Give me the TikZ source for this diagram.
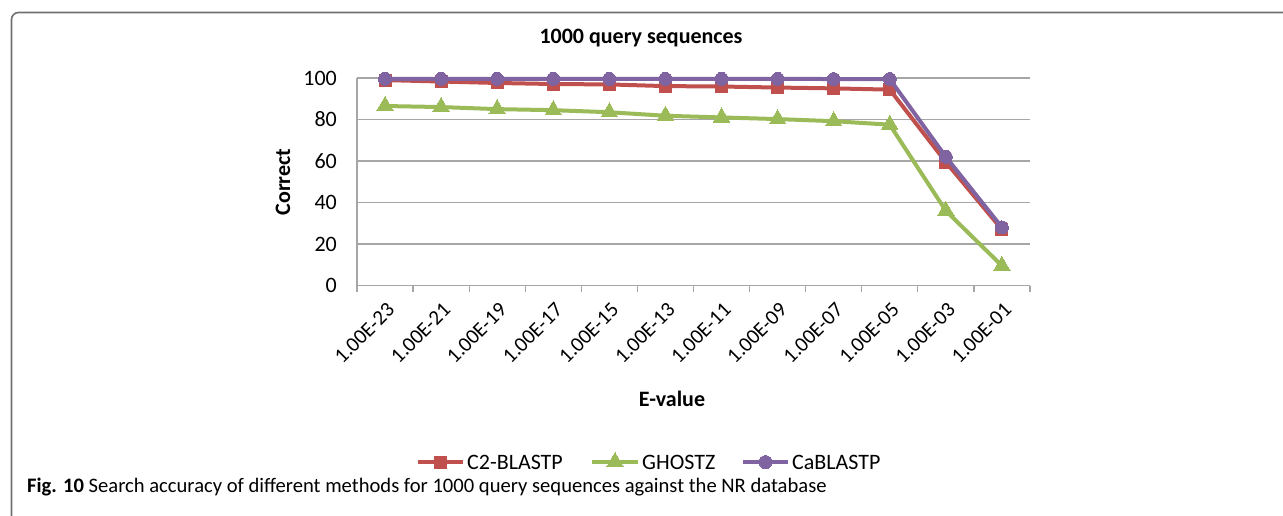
\documentclass[tikz,border=0pt]{standalone}
\usepackage{fontspec}
\setmainfont{Carlito}
\usetikzlibrary{plotmarks}

\definecolor{serred}{HTML}{C0504D}
\definecolor{sergreen}{HTML}{9BBB59}
\definecolor{serpurple}{HTML}{8064A2}
\definecolor{axisgray}{HTML}{A6A6A6}
\definecolor{framegray}{HTML}{707070}

\begin{document}
\begin{tikzpicture}[x=1pt, y=-1pt,
    gridline/.style={draw=axisgray, line width=1.3pt},
    series/.style={line width=4pt, line join=round},
    redser/.style={series, draw=serred, mark=square*, mark size=6pt, mark options={fill=serred, draw=serred, line width=0pt}},
    greenser/.style={series, draw=sergreen, mark=triangle*, mark size=9.5pt, mark options={fill=sergreen, draw=sergreen, line width=0pt}},
    purpleser/.style={series, draw=serpurple, mark=*, mark size=6.5pt, mark options={fill=serpurple, draw=serpurple, line width=0pt}},
    ticklab/.style={font=\fontsize{21}{25}\selectfont, anchor=east, rotate=45, inner sep=0pt},
    ylab/.style={font=\fontsize{22}{26}\selectfont, anchor=east, inner sep=0pt},
    boldlab/.style={font=\fontsize{22}{26}\selectfont\bfseries, inner sep=0pt},
    legtext/.style={font=\fontsize{22}{26}\selectfont, anchor=west, inner sep=0pt}]
  \useasboundingbox (0,0) rectangle (1283,515);
  % frame of the figure
  \draw[framegray, line width=1.6pt, rounded corners=7pt] (11.5,520) -- (11.5,12.5) -- (1290,12.5);

  \node[boldlab] (title) at (641,38) {1000 query sequences};

  % plot area: one unit per category, one unit per percent
  \begin{scope}[shift={(357,285.5)}, x=56.08pt, y=2.075pt]
    \foreach \v in {20,40,...,100}
      \draw[gridline] (0,\v) -- (12,\v);
    \draw[gridline] (0,0) -- (0,100);
    \draw[gridline] (0,0) -- (12,0);
    \foreach \i in {0,...,12}
      \draw[gridline] (\i,0) -- ++(0,-6pt);
    \foreach \v in {0,20,...,100}
      \node[ylab] (y\v) at ([xshift=-20pt]0,\v) {\v};
    \foreach \lab [count=\i from 0] in {1.00E-23,1.00E-21,1.00E-19,1.00E-17,1.00E-15,1.00E-13,1.00E-11,1.00E-09,1.00E-07,1.00E-05,1.00E-03,1.00E-01}
      \node[ticklab] (x\i) at ([xshift=6pt, yshift=-21pt]\i+0.5,0) {\lab};

    \draw[redser] plot coordinates {(0.5,99) (1.5,98.3) (2.5,97.6) (3.5,97.1) (4.5,96.9) (5.5,96.1) (6.5,95.9) (7.5,95.4) (8.5,95) (9.5,94.4) (10.5,59.5) (11.5,27)};
    \draw[greenser] plot coordinates {(0.5,86.5) (1.5,86) (2.5,85) (3.5,84.5) (4.5,83.5) (5.5,81.8) (6.5,81) (7.5,80.2) (8.5,79.2) (9.5,77.5) (10.5,36) (11.5,9.5)};
    \draw[purpleser] plot coordinates {(0.5,99.6) (1.5,99.6) (2.5,99.6) (3.5,99.6) (4.5,99.6) (5.5,99.6) (6.5,99.6) (7.5,99.6) (8.5,99.5) (9.5,99.5) (10.5,62) (11.5,28)};
  \end{scope}

  \node[boldlab, rotate=90] (ytitle) at (283,182) {Correct};
  \node[boldlab] (xtitle) at (672,399) {E-value};

  % legend
  \draw[series, serred] (418,462) -- (463,462);
  \path[redser] plot coordinates {(440.5,462)};
  \draw[series, sergreen] (592,462) -- (638,462);
  \path[greenser] plot coordinates {(615,462)};
  \draw[series, serpurple] (743,462) -- (788,462);
  \path[purpleser] plot coordinates {(765.5,462)};
  \node[legtext] (leg1) at (467,462) {C2-BLASTP};
  \node[legtext] (leg2) at (642,462) {GHOSTZ};
  \node[legtext] (leg3) at (792,462) {CaBLASTP};

  \node[anchor=west, inner sep=0pt, font=\fontsize{20.6}{24}\selectfont] (caption) at (27,487)
    {\textbf{Fig. 10} Search accuracy of different methods for 1000 query sequences against the NR database};
\end{tikzpicture}
\end{document}
